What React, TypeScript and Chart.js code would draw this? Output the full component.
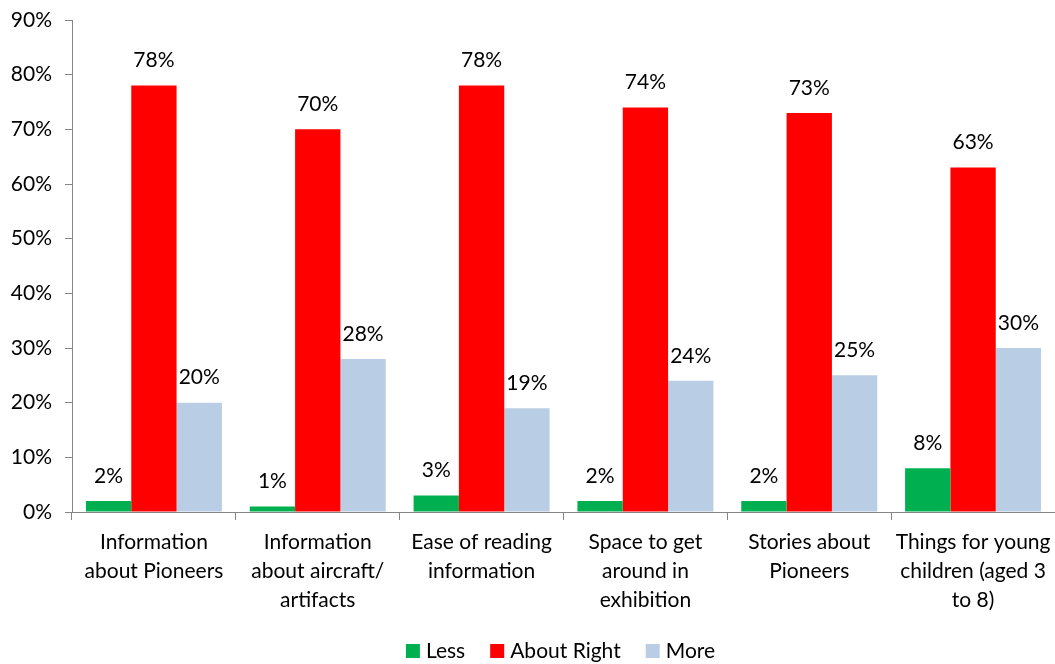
import { useEffect, useRef } from "react";
import { Chart, registerables } from "chart.js";

Chart.register(...registerables);

const categories: string[][] = [
  ["Information", "about Pioneers"],
  ["Information", "about aircraft/", "artifacts"],
  ["Ease of reading", "information"],
  ["Space to get", "around in", "exhibition"],
  ["Stories about", "Pioneers"],
  ["Things for young", "children (aged 3", "to 8)"],
];
const seriesNames = ["Less", "About Right", "More"];
const lessValues = [2, 1, 3, 2, 2, 8];
const aboutRightValues = [78, 70, 78, 74, 73, 63];
const moreValues = [20, 28, 19, 24, 25, 30];
const seriesColors = ["#00B050", "#FF0000", "#B9CDE5"];
const yMin = 0;
const yMax = 90;
const yStep = 10;

const FONT = "Lato, 'Liberation Sans', sans-serif";
const FONT_SIZE = 21;

const valueLabelPlugin = {
  id: "valueLabels",
  afterDatasetsDraw(chart: any) {
    const ctx = chart.ctx;
    ctx.save();
    ctx.font = `${FONT_SIZE}px ${FONT}`;
    ctx.fillStyle = "#000";
    ctx.textAlign = "center";
    ctx.textBaseline = "middle";
    chart.data.datasets.forEach((ds: any, di: number) => {
      const meta = chart.getDatasetMeta(di);
      meta.data.forEach((el: any, i: number) => {
        ctx.fillText(`${ds.data[i]}%`, el.x, el.y - 25);
      });
    });
    ctx.restore();
  },
};

const customLegendPlugin = {
  id: "customLegend",
  afterDraw(chart: any) {
    const ctx = chart.ctx;
    const box = 14;
    const gap = 6;
    const itemGap = 25;
    ctx.save();
    ctx.font = `${FONT_SIZE}px ${FONT}`;
    const items = chart.data.datasets.map((ds: any) => ({
      label: ds.label,
      color: ds.backgroundColor,
      w: ctx.measureText(ds.label).width,
    }));
    const total =
      items.reduce((s: number, it: any) => s + box + gap + it.w, 0) +
      itemGap * (items.length - 1);
    const ca = chart.chartArea;
    let x = (ca.left + ca.right) / 2 - total / 2 - 3;
    const y = 651;
    ctx.textBaseline = "middle";
    ctx.textAlign = "left";
    items.forEach((it: any) => {
      ctx.fillStyle = it.color;
      ctx.fillRect(x, y - box / 2, box, box);
      ctx.fillStyle = "#000";
      ctx.fillText(it.label, x + box + gap, y);
      x += box + gap + it.w + itemGap;
    });
    ctx.restore();
  },
};

export default function App() {
  const ref = useRef<HTMLCanvasElement | null>(null);
  useEffect(() => {
    if (!ref.current) return;
    const values = [lessValues, aboutRightValues, moreValues];
    const chart = new Chart(ref.current, {
      type: "bar",
      data: {
        labels: categories,
        datasets: seriesNames.map((name, i) => ({
          label: name,
          data: values[i],
          backgroundColor: seriesColors[i],
          borderWidth: 0,
          categoryPercentage: 0.83,
          barPercentage: 1.0,
        })),
      },
      options: {
        responsive: false,
        animation: false,
        devicePixelRatio: 1,
        layout: { padding: { left: 0, right: 0, top: 20, bottom: 0 } },
        plugins: {
          legend: { display: false },
          tooltip: { enabled: false },
        },
        scales: {
          x: {
            grid: {
              offset: true,
              drawOnChartArea: false,
              tickLength: 8,
              color: "#868686",
            },
            border: { color: "#868686", width: 1 },
            ticks: {
              color: "#000",
              font: { family: FONT, size: FONT_SIZE, lineHeight: 1.38 },
              padding: 8,
              maxRotation: 0,
              autoSkip: false,
            },
            afterFit(scale: any) {
              scale.height = 152;
              scale.paddingLeft = 0;
              scale.paddingRight = 0;
            },
          },
          y: {
            min: yMin,
            max: yMax,
            grid: {
              drawOnChartArea: false,
              tickLength: 7,
              color: "#868686",
            },
            border: { color: "#868686", width: 1 },
            ticks: {
              stepSize: yStep,
              color: "#000",
              font: { family: FONT, size: FONT_SIZE },
              padding: 13,
              callback: (v: any) => `${v}%`,
            },
            afterFit(scale: any) {
              scale.width = 72;
              scale.paddingTop = 0;
              scale.paddingBottom = 0;
            },
          },
        },
      },
      plugins: [valueLabelPlugin, customLegendPlugin],
    });
    return () => chart.destroy();
  }, []);
  return (
    <div style={{ position: "absolute", left: 0, top: 0, width: 1055, height: 664, background: "#fff" }}>
      <canvas ref={ref} width={1055} height={664} />
    </div>
  );
}
